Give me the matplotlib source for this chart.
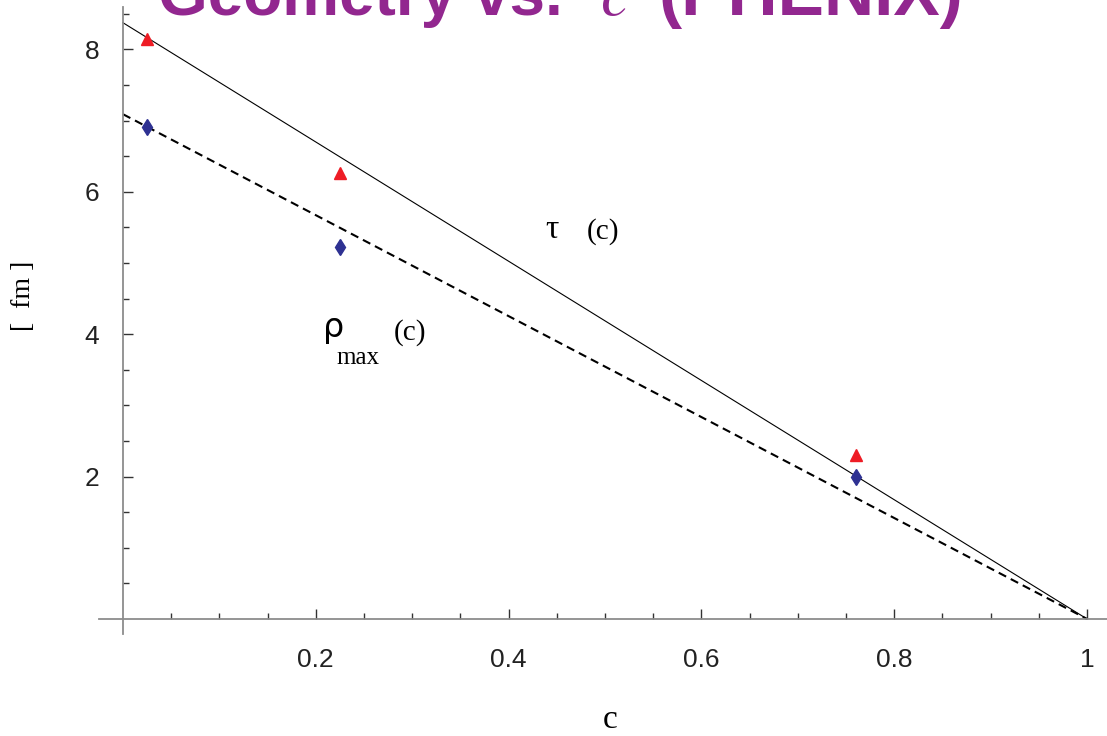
import matplotlib
matplotlib.use('Agg')
import matplotlib.pyplot as plt
import numpy as np

RED = '#EE1C25'
NAVY = '#2E3192'
PURPLE = '#92278F'
AXGREY = '#8C8C8C'

# data
c_pts = [0.025, 0.225, 0.760]
tau_pts = [8.15, 6.26, 2.30]
rho_pts = [6.91, 5.22, 1.99]

c_line = [0.0, 1.0]
tau_line = [8.375, 0.0]
rho_line = [7.09, 0.0]

x_major = [0.2, 0.4, 0.6, 0.8, 1.0]
x_labels = ['0.2', '0.4', '0.6', '0.8', '1']
y_major = [2, 4, 6, 8]

plt.rcParams['mathtext.fontset'] = 'stix'

fig = plt.figure(figsize=(11.07, 7.36), dpi=100)
ax = fig.add_axes([0.0894, 0.1386, 0.9106, 0.8519])

ax.plot(c_line, tau_line, color='black', lw=0.8)
ax.plot(c_line, rho_line, color='black', lw=1.5, linestyle=(0, (4, 2.5)))
ax.plot(c_pts, tau_pts, linestyle='none', marker='^', color=RED, markersize=9)
ax.plot(c_pts, rho_pts, linestyle='none', marker='d', color=NAVY, markersize=8.5)

ax.set_xlim(-0.0249, 1.0207)
ax.set_ylim(-0.211, 8.596)

for s in ['top', 'right']:
    ax.spines[s].set_visible(False)
ax.spines['left'].set_position(('data', 0))
ax.spines['bottom'].set_position(('data', 0))
for s in ['left', 'bottom']:
    ax.spines[s].set_color(AXGREY)
    ax.spines[s].set_linewidth(1.3)

ax.set_xticks(x_major)
ax.set_xticklabels(x_labels)
ax.set_xticks(np.arange(0.05, 1.0, 0.05), minor=True)
ax.set_yticks(y_major)
ax.set_yticks([0.5, 1, 1.5, 2.5, 3, 3.5, 4.5, 5, 5.5, 6.5, 7, 7.5, 8.5], minor=True)
ax.tick_params(which='both', direction='in', color='#333333', width=1,
               labelsize=19, labelcolor='#222222', labelfontfamily='Liberation Sans')
ax.tick_params(which='major', length=7)
ax.tick_params(which='minor', length=4.5)
ax.tick_params(axis='y', pad=17)
ax.tick_params(axis='x', pad=21)

serif = 'Liberation Serif'
ax.text(0.445, 5.47, '\u03c4', fontsize=24, family=serif, ha='center', va='center')
ax.text(0.498, 5.44, '(c)', fontsize=21, family=serif, ha='center', va='center')
ax.text(0.218, 4.10, '\u03c1', fontsize=24, family='DejaVu Sans', ha='center', va='center')
ax.text(0.244, 3.66, 'max', fontsize=18, family=serif, ha='center', va='center')
ax.text(0.298, 4.03, '(c)', fontsize=21, family=serif, ha='center', va='center')

fig.text(610 / 1107, 1 - 720 / 736, 'c', fontsize=24, family=serif, ha='center', va='center')
fig.text(23 / 1107, 1 - 296 / 736, '[  fm ]', fontsize=20, family=serif, rotation=90,
         ha='center', va='center')

# title, cut off at the top edge as in the original slide
ty = 1 - 15 / 736
fig.text(563 / 1107, ty, 'Geometry vs.', fontsize=46, family='Liberation Sans',
         weight='bold', color=PURPLE, ha='right', va='baseline')
fig.text(615 / 1107, ty, '$c$', fontsize=48, color=PURPLE, ha='center', va='baseline')
fig.text(658 / 1107, ty, '(PHENIX)', fontsize=50, family='Liberation Sans',
         weight='bold', color=PURPLE, ha='left', va='baseline')

fig.savefig('out.png', dpi=100)
